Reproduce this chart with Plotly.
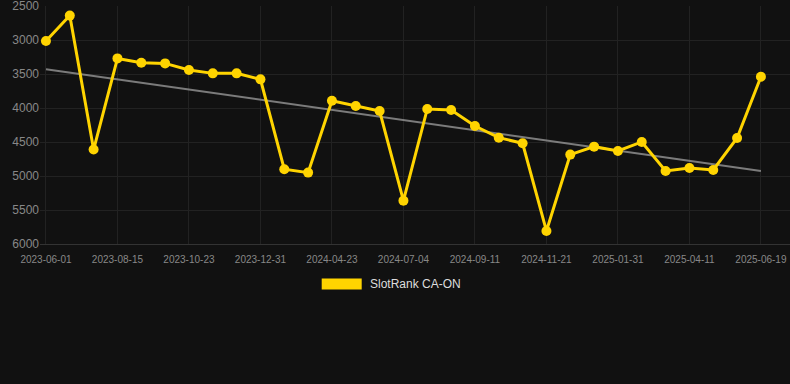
import numpy as np
import plotly.graph_objects as go

dates = [
    "2023-06-01", "2023-06-26", "2023-07-21", "2023-08-15", "2023-09-07",
    "2023-09-30", "2023-10-23", "2023-11-15", "2023-12-08", "2023-12-31",
    "2024-02-07", "2024-03-16", "2024-04-23", "2024-05-17", "2024-06-10",
    "2024-07-04", "2024-07-27", "2024-08-19", "2024-09-11", "2024-10-04",
    "2024-10-28", "2024-11-21", "2024-12-11", "2025-01-10", "2025-01-31",
    "2025-02-25", "2025-03-18", "2025-04-11", "2025-05-04", "2025-05-27",
    "2025-06-19",
]
rank = [
    3015, 2640, 4610, 3270, 3333, 3343, 3441, 3490, 3490, 3578,
    4900, 4950, 3892, 3970, 4044, 5362, 4014, 4029, 4264, 4436,
    4518, 5808, 4685, 4568, 4632, 4499, 4926, 4881, 4911, 4440,
    3539,
]
tick_labels = [
    "2023-06-01", "2023-08-15", "2023-10-23", "2023-12-31", "2024-04-23",
    "2024-07-04", "2024-09-11", "2024-11-21", "2025-01-31", "2025-04-11",
    "2025-06-19",
]
y_ticks = [2500, 3000, 3500, 4000, 4500, 5000, 5500, 6000]
series_name = "SlotRank CA-ON"

idx = np.arange(len(rank))
slope, intercept = np.polyfit(idx, rank, 1)
trend = slope * idx + intercept

FONT = "Liberation Sans, Arial, sans-serif"
GOLD = "#FFD400"

fig = go.Figure()
fig.add_trace(go.Scatter(
    x=dates, y=trend, mode="lines",
    line=dict(color="rgba(150,150,150,0.8)", width=2),
    showlegend=False, hoverinfo="skip",
))
fig.add_trace(go.Scatter(
    x=dates, y=rank, mode="lines+markers", name=series_name,
    line=dict(color=GOLD, width=3),
    marker=dict(color=GOLD, size=10),
    showlegend=False,
))

fig.update_layout(
    width=790, height=384,
    paper_bgcolor="#111111", plot_bgcolor="#111111",
    margin=dict(l=40, r=0, t=6, b=140),
    font=dict(family=FONT, color="#888888"),
    xaxis=dict(
        type="category",
        range=[-0.25, 31.22],
        tickmode="array", tickvals=tick_labels, ticktext=tick_labels,
        tickfont=dict(size=10, color="#888888"),
        ticklabelstandoff=6,
        showgrid=True, gridcolor="#222222", gridwidth=1,
        showline=True, linecolor="#333333", linewidth=1,
        zeroline=False, ticks="",
    ),
    yaxis=dict(
        range=[6000, 2499],
        tickmode="array", tickvals=y_ticks,
        tickfont=dict(size=12, color="#888888"),
        ticklabeloverflow="allow",
        showgrid=True, gridcolor="#222222", gridwidth=1,
        zeroline=False, ticks="", showline=False,
    ),
    shapes=[dict(
        type="rect", xref="paper", yref="paper",
        x0=(321.7 - 40) / 750, x1=(361.7 - 40) / 750,
        y0=(244 - 278.5) / 238, y1=(244 - 289.5) / 238,
        fillcolor=GOLD, line=dict(width=0),
    )],
    annotations=[dict(
        xref="paper", yref="paper",
        x=(367.5 - 40) / 750, y=(244 - 284) / 238,
        xanchor="left", yanchor="middle", showarrow=False,
        text=series_name, font=dict(family=FONT, size=12, color="#DDDDDD"),
    )],
)

fig.write_html(
    "out.html",
    config={"displayModeBar": False},
    post_script="document.body.style.margin='0';document.body.style.background='#111111';",
)
